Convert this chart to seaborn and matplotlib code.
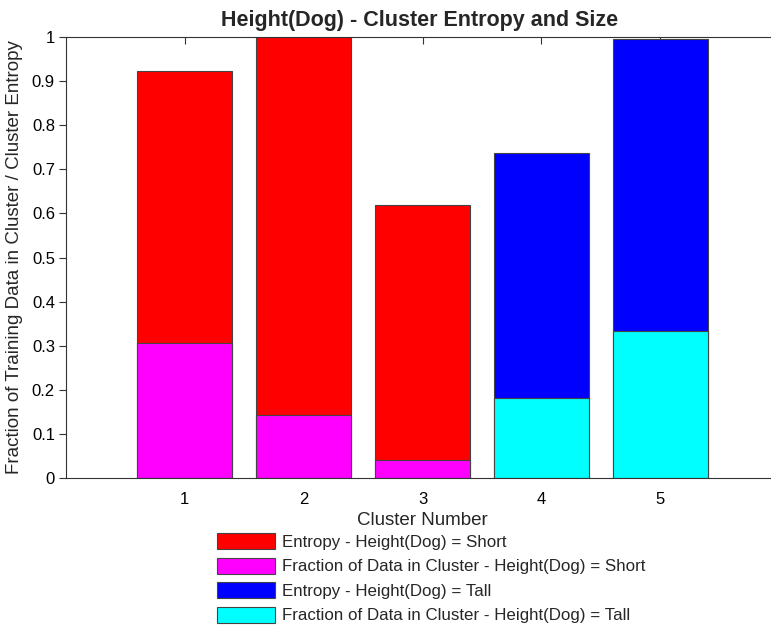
import numpy as np
import pandas as pd
import matplotlib
matplotlib.use("Agg")
import matplotlib.pyplot as plt
from matplotlib.patches import Patch
import seaborn as sns

clusters = [1, 2, 3, 4, 5]
height_class = ["Short", "Short", "Short", "Tall", "Tall"]
fraction = [0.306, 0.143, 0.0415, 0.181, 0.333]
entropy = [0.617, 0.857, 0.578, 0.556, 0.663]

legend_labels = [
    "Entropy - Height(Dog) = Short",
    "Fraction of Data in Cluster - Height(Dog) = Short",
    "Entropy - Height(Dog) = Tall",
    "Fraction of Data in Cluster - Height(Dog) = Tall",
]
entropy_colors = {"Short": "#ff0000", "Tall": "#0000ff"}
fraction_colors = {"Short": "#ff00ff", "Tall": "#00ffff"}


def build_frame():
    df = pd.DataFrame({"cluster": clusters, "cls": height_class,
                       "fraction": fraction, "entropy": entropy})
    df["total"] = df["fraction"] + df["entropy"]
    return df


def main():
    sns.set_style("ticks")
    plt.rcParams["font.family"] = ["Liberation Sans", "DejaVu Sans"]

    df = build_frame()
    fig = plt.figure(figsize=(7.71, 6.36), dpi=100)
    ax = fig.add_axes([66 / 771, 158 / 636, 713 / 771, 441 / 636])

    edge = dict(edgecolor="#444444", linewidth=0.8)
    # stacked look: total bar first, then the fraction part on top of it
    sns.barplot(data=df, x="cluster", y="total", hue="cls", palette=entropy_colors,
                native_scale=True, dodge=False, width=0.8, legend=False,
                saturation=1, ax=ax, **edge)
    sns.barplot(data=df, x="cluster", y="fraction", hue="cls", palette=fraction_colors,
                native_scale=True, dodge=False, width=0.8, legend=False,
                saturation=1, ax=ax, **edge)

    ax.set_xlim(0, 6)
    ax.set_ylim(0, 1)
    ax.set_xticks(clusters)
    ax.set_yticks(np.arange(0, 1.01, 0.1))
    ax.yaxis.set_major_formatter(matplotlib.ticker.FormatStrFormatter("%g"))
    ax.tick_params(axis="y", direction="out", length=5, labelsize=12, colors="#333333",
                   labelcolor="black", pad=3)
    ax.tick_params(axis="x", direction="in", length=5, top=True, labelsize=12,
                   colors="#333333", labelcolor="black", pad=10)
    for s in ax.spines.values():
        s.set_color("#333333")
        s.set_linewidth(0.8)
    ax.spines["right"].set_visible(False)

    ax.set_xlabel("Cluster Number", fontsize=13.5, labelpad=4)
    ax.set_ylabel("Fraction of Training Data in Cluster / Cluster Entropy", fontsize=13.5,
                  labelpad=6)
    ax.set_title("Height(Dog) - Cluster Entropy and Size", fontsize=15.5,
                 fontweight="bold", pad=8)
    ax.title.set_x((420 - 66) / 713)

    colors = [entropy_colors["Short"], fraction_colors["Short"],
              entropy_colors["Tall"], fraction_colors["Tall"]]
    handles = [Patch(facecolor=c, **edge) for c in colors]
    fig.legend(handles, legend_labels, loc="upper left",
               bbox_to_anchor=(217 / 771, 1 - 533 / 636), frameon=False,
               borderpad=0, borderaxespad=0, fontsize=12.2, handlelength=3.4,
               handleheight=1.1, handletextpad=0.45, labelspacing=0.45)

    fig.savefig("out.png", dpi=100)


if __name__ == "__main__":
    main()
